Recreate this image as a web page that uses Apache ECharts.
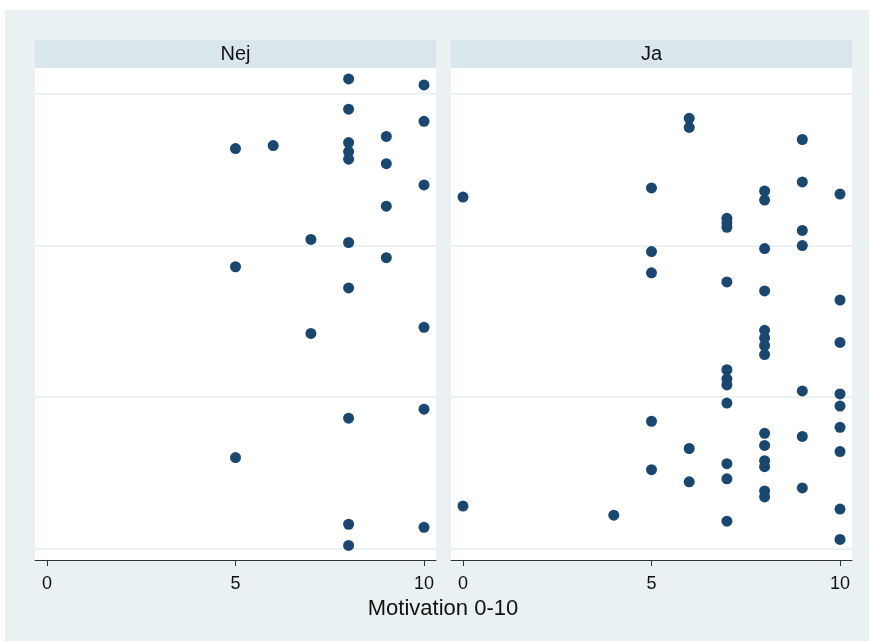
<!DOCTYPE html>
<html>
<head>
<meta charset="utf-8">
<script src="https://cdn.jsdelivr.net/npm/echarts@6/dist/echarts.min.js"></script>
<style>
html,body{margin:0;padding:0;background:#fff;}
#chart{width:869px;height:641px;}
</style>
</head>
<body>
<div id="chart"></div>
<script>
// Panel labels
const panels = ['Nej', 'Ja'];
const xTitle = 'Motivation 0-10';
const xTicks = [0, 5, 10];
const yGrid = [0, 1, 2, 3];

// Panel "Nej"
const nejX = [8, 10, 8, 10, 9, 5, 6, 8, 8, 8, 9, 10, 9, 7, 8, 9, 5, 8, 7, 10, 10, 8, 5, 8, 10, 8];
const nejY = [3.10, 3.06, 2.90, 2.82, 2.72, 2.64, 2.66, 2.68, 2.62, 2.57, 2.54, 2.40, 2.26, 2.04, 2.02, 1.92, 1.86, 1.72, 1.42, 1.46, 0.92, 0.86, 0.60, 0.16, 0.14, 0.02];

// Panel "Ja"
const jaX = [6, 6, 9, 9, 5, 0, 8, 8, 10, 7, 7, 7, 9, 9, 5, 5, 8, 7, 8, 10, 8, 8, 8, 8, 10, 7, 7, 7, 9, 10, 7, 10, 5, 10, 8, 8, 9, 6, 10, 8, 8, 7, 5, 6, 7, 9, 8, 8, 0, 4, 10, 7, 10];
const jaY = [2.84, 2.78, 2.70, 2.42, 2.38, 2.32, 2.36, 2.30, 2.34, 2.18, 2.15, 2.12, 2.10, 2.00, 1.96, 1.82, 1.98, 1.76, 1.70, 1.64, 1.44, 1.39, 1.34, 1.28, 1.36, 1.18, 1.12, 1.08, 1.04, 1.02, 0.96, 0.94, 0.84, 0.80, 0.76, 0.68, 0.74, 0.66, 0.64, 0.58, 0.54, 0.56, 0.52, 0.44, 0.46, 0.40, 0.38, 0.34, 0.28, 0.22, 0.26, 0.18, 0.06];

const chart = echarts.init(document.getElementById('chart'), null, {renderer: 'canvas'});
const FONT = '"Liberation Sans", Arial, sans-serif';
const gridLefts = [35, 451];
const gridW = 401;

function pair(xs, ys) { return xs.map((x, i) => [x, ys[i]]); }

const xAxes = gridLefts.map((_, i) => ({
  gridIndex: i, type: 'value', min: -0.318, max: 10.318,
  axisLine: {show: true, onZero: false, lineStyle: {color: '#333', width: 1}},
  axisTick: {show: true, length: 6, customValues: xTicks, lineStyle: {color: '#333'}},
  axisLabel: {show: true, customValues: xTicks, color: '#111', fontSize: 18, fontFamily: FONT, margin: 15},
  splitLine: {show: false}
}));
const yAxes = gridLefts.map((_, i) => ({
  gridIndex: i, type: 'value', min: -0.076, max: 3.172,
  axisLine: {show: false}, axisTick: {show: false}, axisLabel: {show: false}, splitLine: {show: false}
}));

const datasets = [pair(nejX, nejY), pair(jaX, jaY)];
const series = datasets.map((d, i) => ({
  type: 'scatter', xAxisIndex: i, yAxisIndex: i, data: d,
  symbolSize: 11, itemStyle: {color: '#1a476f', opacity: 1},
  z: 5,
  markLine: {
    silent: true, symbol: 'none', label: {show: false}, animation: false, z: 1,
    lineStyle: {color: '#e4eef1', width: 1.5, type: 'solid'},
    data: yGrid.map(v => ({yAxis: v}))
  }
}));

const graphics = [
  {type: 'rect', shape: {x: 5, y: 10, width: 864, height: 631}, style: {fill: '#eaf1f3'}, z: -10}
];
gridLefts.forEach((l, i) => {
  graphics.push({type: 'rect', shape: {x: l, y: 40, width: gridW, height: 28}, style: {fill: '#d9e6eb'}, z: -5});
  graphics.push({type: 'text', x: l + gridW / 2, y: 54, style: {text: panels[i], fill: '#111', font: '20px ' + FONT, textAlign: 'center', textVerticalAlign: 'middle'}});
});
graphics.push({type: 'text', x: 443, y: 609, style: {text: xTitle, fill: '#111', font: '22px ' + FONT, textAlign: 'center', textVerticalAlign: 'middle'}});

chart.setOption({
  animation: false,
  backgroundColor: '#ffffff',
  grid: gridLefts.map(l => ({left: l, top: 68, width: gridW, height: 492, show: true, backgroundColor: '#ffffff', borderWidth: 0})),
  xAxis: xAxes,
  yAxis: yAxes,
  series: series,
  graphic: graphics
});
</script>
</body>
</html>
